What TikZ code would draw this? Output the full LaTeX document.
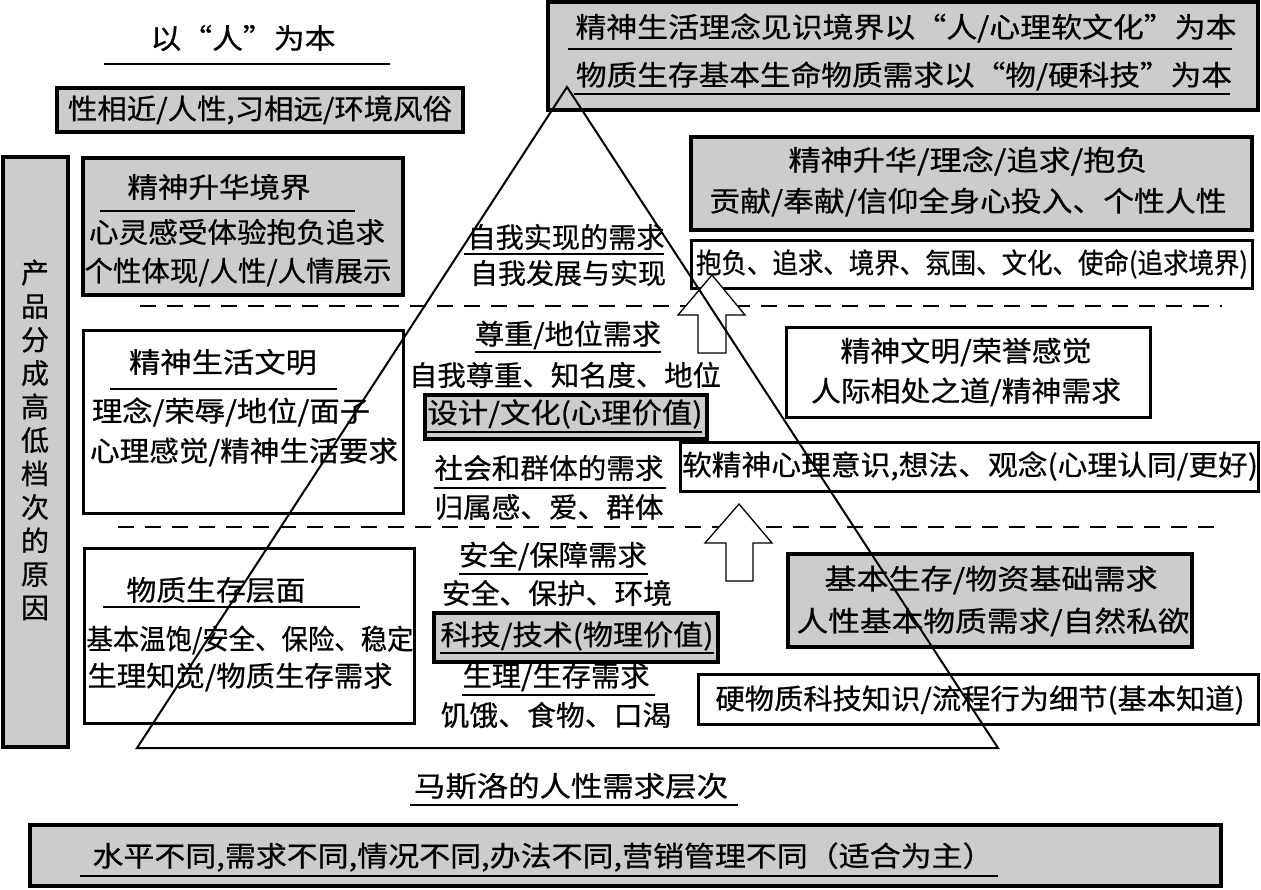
\documentclass[tikz,border=0pt]{standalone}
\usepackage{fontspec}
\setmainfont[FakeBold=0.6]{Noto Sans CJK SC}
\usetikzlibrary{fit}
\definecolor{boxgray}{RGB}{204,204,204}
\newsavebox\twbox
\newcommand\tw[2]{\sbox\twbox{#2}\resizebox{#1pt}{\ht\twbox}{\usebox\twbox}}
\tikzset{
  gbox/.style={draw=black, line width=3.2pt, fill=boxgray, inner sep=0pt},
  wbox/.style={draw=black, line width=3pt, fill=white, inner sep=0pt},
  txt/.style={inner sep=0pt, anchor=center, font=\fontsize{28}{33}\selectfont},
  uline/.style={line width=1.4pt},
  dline/.style={line width=1.3pt, dash pattern=on 16pt off 11pt},
  blockarrow/.style={draw=black, line width=1.3pt, fill=white},
  tri/.style={line width=2pt, line join=miter},
}
\begin{document}
\begin{tikzpicture}[x=1pt,y=-1pt]
\useasboundingbox[fill=white] (0,0) rectangle (1261,889);

% ---------- boxes ----------
\node[gbox, fit={(57,88)(463,132)}] (bA) {};
\node[gbox, fit={(3,157)(68,747)}] (bV) {};
\node[gbox, fit={(83,158)(403,295)}] (bB) {};
\node[gbox, fit={(548,2)(1258,110)}] (bC) {};
\node[gbox, fit={(691,137)(1252,230)}] (bD) {};
\node[wbox, fit={(691,240)(1252,288)}] (bE) {};
\node[wbox, fit={(83,330)(403,513)}] (bF) {};
\node[wbox, fit={(84,548)(414,723)}] (bG) {};
\node[wbox, fit={(786,327)(1150,417)}] (bH) {};
\node[wbox, fit={(680,442)(1258,491)}] (bI) {};
\node[gbox, fit={(788,554)(1192,647)}] (bJ) {};
\node[wbox, fit={(698,674)(1258,724)}] (bK) {};
\node[gbox, fit={(30,825)(1221,886)}] (bL) {};
\node[gbox, fit={(425,395)(707,439)}] (bS) {};
\node[gbox, fit={(434,613)(718,662)}] (bT) {};

% ---------- dashed level lines ----------
\draw[dline] (140,306) -- (1222,306);
\draw[dline] (118,527) -- (1215,527);

% ---------- block arrows ----------
\draw[blockarrow] (712,275) -- (745,315) -- (726,315) -- (726,353) -- (698,353) -- (698,315) -- (678,315) -- cycle;
\draw[blockarrow] (739,504) -- (772,543) -- (753,543) -- (753,581) -- (726,581) -- (726,543) -- (705,543) -- cycle;

% ---------- texts ----------
\node[txt] (t1) at (243,38) {\tw{185}{以“人”为本}};
\draw[uline] (104,64) -- (390,64);

\node[txt] (tA) at (260,110) {\tw{384}{性相近/人性,习相远/环境风俗}};

\node[txt, align=center, font=\fontsize{28}{33.5}\selectfont] (tV) at (35,440)
  {产\\品\\分\\成\\高\\低\\档\\次\\的\\原\\因};

\node[txt] (tB1) at (219,187) {\tw{183}{精神升华境界}};
\draw[uline] (100,211) -- (355,211);
\node[txt] (tB2) at (237,232) {\tw{296}{心灵感受体验抱负追求}};
\node[txt] (tB3) at (238,272) {\tw{307}{个性体现/人性/人情展示}};

\node[txt] (tC1) at (906,28) {\tw{661}{精神生活理念见识境界以“人/心理软文化”为本}};
\draw[uline] (568,49) -- (1232,49);
\node[txt] (tC2) at (904,76) {\tw{656}{物质生存基本生命物质需求以“物/硬科技”为本}};
\draw[uline] (574,94) -- (1230,94);

\node[txt] (tD1) at (968,161) {\tw{359}{精神升华/理念/追求/抱负}};
\node[txt] (tD2) at (968,202) {\tw{517}{贡献/奉献/信仰全身心投入、个性人性}};

\node[txt] (tE) at (972,264) {\tw{552}{抱负、追求、境界、氛围、文化、使命(追求境界)}};

\node[txt] (tF1) at (223,362) {\tw{188}{精神生活文明}};
\draw[uline] (110,389) -- (337,389);
\node[txt] (tF2) at (231,412) {\tw{278}{理念/荣辱/地位/面子}};
\node[txt] (tF3) at (244,452) {\tw{308}{心理感觉/精神生活要求}};

\node[txt] (tG1) at (216,590) {\tw{179}{物质生存层面}};
\draw[uline] (103,607) -- (360,607);
\node[txt] (tG2) at (250,640) {\tw{327}{基本温饱/安全、保险、稳定}};
\node[txt] (tG3) at (240,677) {\tw{305}{生理知觉/物质生存需求}};

\node[txt] (tH1) at (966,352) {\tw{251}{精神文明/荣誉感觉}};
\node[txt] (tH2) at (966,392) {\tw{310}{人际相处之道/精神需求}};

\node[txt] (tI) at (970,466) {\tw{576}{软精神心理意识,想法、观念(心理认同/更好)}};

\node[txt] (tJ1) at (991,580) {\tw{333}{基本生存/物资基础需求}};
\node[txt] (tJ2) at (993,622) {\tw{393}{人性基本物质需求/自然私欲}};

\node[txt] (tK) at (980,700) {\tw{529}{硬物质科技知识/流程行为细节(基本知道)}};

% pyramid texts
\node[txt] (p1) at (566,237) {\tw{197}{自我实现的需求}};
\draw[uline] (464,254) -- (664,254);
\node[txt] (p2) at (568,273) {\tw{196}{自我发展与实现}};
\node[txt] (p3) at (568,335) {\tw{186}{尊重/地位需求}};
\draw[uline] (475,352) -- (661,352);
\node[txt] (p4) at (565,375) {\tw{312}{自我尊重、知名度、地位}};
\node[txt] (p5) at (565,414) {\tw{275}{设计/文化(心理价值)}};
\draw[uline] (427,432) -- (702,432);
\node[txt] (p6) at (549,468) {\tw{229}{社会和群体的需求}};
\draw[uline] (434,488) -- (666,488);
\node[txt] (p7) at (549,507) {\tw{229}{归属感、爱、群体}};
\node[txt] (p8) at (553,556) {\tw{188}{安全/保障需求}};
\draw[uline] (459,574) -- (648,574);
\node[txt] (p9) at (557,593) {\tw{230}{安全、保护、环境}};
\node[txt] (p10) at (577,636) {\tw{273}{科技/技术(物理价值)}};
\draw[uline] (440,653) -- (714,653);
\node[txt] (p11) at (556,677) {\tw{187}{生理/生存需求}};
\draw[uline] (462,695) -- (655,695);
\node[txt] (p12) at (556,715) {\tw{231}{饥饿、食物、口渴}};

\node[txt] (tM) at (571,786) {\tw{314}{马斯洛的人性需求层次}};
\draw[uline] (410,805) -- (738,805);

\node[txt] (tL) at (543,857) {\tw{901}{水平不同,需求不同,情况不同,办法不同,营销管理不同（适合为主）}};
\draw[uline] (80,876) -- (998,876);

% ---------- pyramid ----------
\coordinate (apex) at (567,87);
\coordinate (bl) at (137,748);
\coordinate (br) at (998,748);
\draw[tri] (apex) -- (bl) -- (br) -- cycle;
\end{tikzpicture}
\end{document}
